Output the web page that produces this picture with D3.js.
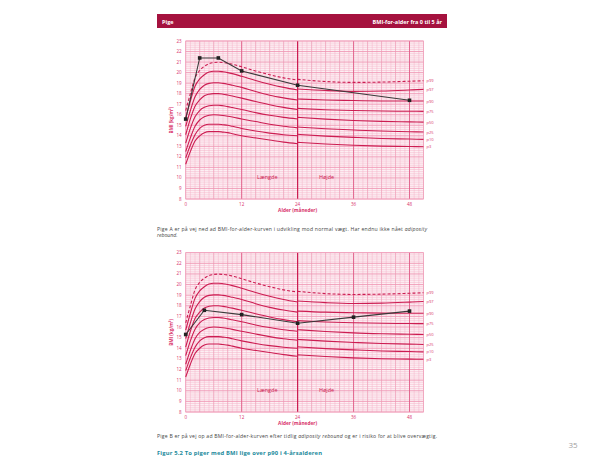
<!DOCTYPE html>
<html>
<head>
<meta charset="utf-8">
<script src="https://cdn.jsdelivr.net/npm/d3@7"></script>
<style>
  html, body { margin: 0; padding: 0; background: #ffffff; }
  svg { display: block; font-family: "Open Sans", "Liberation Sans", sans-serif; }
</style>
</head>
<body>
<svg id="page" width="613" height="461"></svg>
<script>
// Reference percentile curves (girls, BMI-for-age 0-51 months).
// Length-based segment up to 24 months, height-based segment from 24 months.
const lengthMonths = [0, 1, 2, 3, 4, 5, 6, 7, 8, 9, 10, 12, 15, 18, 21, 24];
const heightMonths = [24, 30, 36, 42, 48, 51];

const percentileNames = ["p3", "p10", "p25", "p50", "p75", "p90", "p97", "p99"];

const p3Length  = [11.3, 12.5, 13.5, 14.0, 14.3, 14.4, 14.4, 14.4, 14.35, 14.3, 14.2, 14.0, 13.8, 13.6, 13.4, 13.25];
const p10Length = [11.9, 13.1, 14.1, 14.7, 15.0, 15.1, 15.1, 15.1, 15.05, 15.0, 14.9, 14.7, 14.45, 14.25, 14.1, 14.0];
const p25Length = [12.5, 13.8, 14.9, 15.5, 15.8, 15.95, 16.0, 15.98, 15.93, 15.86, 15.78, 15.6, 15.35, 15.1, 14.9, 14.75];
const p50Length = [13.3, 14.7, 15.8, 16.4, 16.7, 16.85, 16.9, 16.9, 16.85, 16.77, 16.68, 16.5, 16.2, 15.95, 15.75, 15.6];
const p75Length = [14.1, 15.6, 16.8, 17.4, 17.8, 17.95, 18.0, 18.0, 17.95, 17.87, 17.78, 17.58, 17.25, 16.95, 16.7, 16.5];
const p90Length = [14.9, 16.4, 17.7, 18.4, 18.8, 18.98, 19.03, 19.03, 18.98, 18.9, 18.8, 18.6, 18.2, 17.85, 17.6, 17.4];
const p97Length = [15.7, 17.3, 18.7, 19.4, 19.8, 20.05, 20.13, 20.13, 20.08, 20.0, 19.9, 19.65, 19.25, 18.9, 18.6, 18.35];
const p99Length = [16.4, 18.0, 19.5, 20.2, 20.6, 20.85, 20.95, 20.98, 20.95, 20.9, 20.8, 20.55, 20.15, 19.8, 19.5, 19.3];

const p3Height  = [13.38, 13.22, 13.1, 13.02, 12.98, 12.96];
const p10Height = [14.14, 13.97, 13.85, 13.75, 13.69, 13.66];
const p25Height = [14.83, 14.67, 14.55, 14.45, 14.39, 14.36];
const p50Height = [15.75, 15.58, 15.45, 15.37, 15.32, 15.3];
const p75Height = [16.6, 16.48, 16.4, 16.35, 16.33, 16.32];
const p90Height = [17.5, 17.4, 17.35, 17.31, 17.3, 17.3];
const p97Height = [18.45, 18.3, 18.22, 18.25, 18.35, 18.41];
const p99Height = [19.36, 19.15, 19.07, 19.1, 19.18, 19.23];

// Two girls' measurements
const girlAMonths = [0, 3, 7, 12, 24, 48];
const girlABmi    = [15.59, 21.39, 21.39, 20.16, 18.8, 17.37];
const girlBMonths = [0, 4, 12, 24, 36, 48];
const girlBBmi    = [15.3, 17.58, 17.17, 16.36, 16.93, 17.5];

const yTicks = [8, 9, 10, 11, 12, 13, 14, 15, 16, 17, 18, 19, 20, 21, 22, 23];
const xTicks = [0, 12, 24, 36, 48];

const lengthCurves = [p3Length, p10Length, p25Length, p50Length, p75Length, p90Length, p97Length, p99Length];
const heightCurves = [p3Height, p10Height, p25Height, p50Height, p75Height, p90Height, p97Height, p99Height];

const svg = d3.select("#page");
const crimson = "#cc1d52";
const pinkText = "#d8326a";

// Page header band
svg.append("rect").attr("x", 157).attr("y", 14).attr("width", 290).attr("height", 14).attr("fill", "#a5123e");
svg.append("text").attr("x", 162).attr("y", 23.5).attr("fill", "#fff")
  .attr("font-size", 5.5).attr("font-weight", "bold").text("Pige");
svg.append("text").attr("x", 442).attr("y", 23.5).attr("fill", "#fff").attr("text-anchor", "end")
  .attr("font-size", 5.5).attr("font-weight", "bold").text("BMI-for-alder fra 0 til 5 år");

function drawChart(top, bottom, months, bmi) {
  const x = d3.scaleLinear().domain([0, 51]).range([185.7, 423.5]);
  const y = d3.scaleLinear().domain([8, 23]).range([bottom, top]);
  const g = svg.append("g");

  g.append("rect").attr("x", x(0)).attr("y", y(23)).attr("width", x(51) - x(0)).attr("height", y(8) - y(23))
    .attr("fill", "#fdf0f4");

  // fine grid
  const minorY = d3.range(8, 23.01, 0.2);
  g.selectAll(null).data(minorY).join("line")
    .attr("x1", x(0)).attr("x2", x(51)).attr("y1", d => y(d)).attr("y2", d => y(d))
    .attr("stroke", "#f5b3c9").attr("stroke-width", 0.5);
  const minorX = d3.range(0, 51.01, 1);
  g.selectAll(null).data(minorX).join("line")
    .attr("y1", y(8)).attr("y2", y(23)).attr("x1", d => x(d)).attr("x2", d => x(d))
    .attr("stroke", "#f5b3c9").attr("stroke-width", 0.5);
  // unit grid
  g.selectAll(null).data(yTicks).join("line")
    .attr("x1", x(0)).attr("x2", x(51)).attr("y1", d => y(d)).attr("y2", d => y(d))
    .attr("stroke", "#ec86a8").attr("stroke-width", 0.6);
  g.selectAll(null).data(d3.range(0, 51.01, 3)).join("line")
    .attr("y1", y(8)).attr("y2", y(23)).attr("x1", d => x(d)).attr("x2", d => x(d))
    .attr("stroke", "#ec9ab5").attr("stroke-width", 0.5);
  g.selectAll(null).data([12, 36, 48]).join("line")
    .attr("y1", y(8)).attr("y2", y(23)).attr("x1", d => x(d)).attr("x2", d => x(d))
    .attr("stroke", "#dd4b7b").attr("stroke-width", 0.7);
  g.append("line").attr("y1", y(8)).attr("y2", y(23)).attr("x1", x(24)).attr("x2", x(24))
    .attr("stroke", crimson).attr("stroke-width", 1.2);
  g.append("rect").attr("x", x(0)).attr("y", y(23)).attr("width", x(51) - x(0)).attr("height", y(8) - y(23))
    .attr("fill", "none").attr("stroke", "#f0a0bb").attr("stroke-width", 0.6);

  // percentile curves
  const line = d3.line().curve(d3.curveMonotoneX);
  lengthCurves.forEach((vals, i) => {
    const dashed = percentileNames[i] === "p99";
    g.append("path").attr("d", line(lengthMonths.map((m, j) => [x(m), y(vals[j])])))
      .attr("fill", "none").attr("stroke", crimson).attr("stroke-width", 1.1)
      .attr("stroke-dasharray", dashed ? "3,2" : null);
    g.append("path").attr("d", line(heightMonths.map((m, j) => [x(m), y(heightCurves[i][j])])))
      .attr("fill", "none").attr("stroke", crimson).attr("stroke-width", 1.1)
      .attr("stroke-dasharray", dashed ? "3,2" : null);
    g.append("text").attr("x", x(51) + 3).attr("y", y(heightCurves[i][heightCurves[i].length - 1]) + 1.5)
      .attr("font-size", 4).attr("fill", pinkText).text(percentileNames[i]);
  });

  // axes labels
  g.selectAll(null).data(yTicks).join("text")
    .attr("x", x(0) - 4).attr("y", d => y(d) + 1.5).attr("text-anchor", "end")
    .attr("font-size", 4.5).attr("fill", pinkText).text(d => d);
  g.selectAll(null).data(xTicks).join("text")
    .attr("x", d => x(d)).attr("y", y(8) + 6.5).attr("text-anchor", "middle")
    .attr("font-size", 4.5).attr("fill", pinkText).text(d => d);
  g.append("text").attr("x", x(24)).attr("y", y(8) + 13).attr("text-anchor", "middle")
    .attr("font-size", 4.8).attr("font-weight", "bold").attr("fill", pinkText).text("Alder (måneder)");
  g.append("text").attr("transform", `translate(${x(0) - 13},${(y(8) + y(23)) / 2}) rotate(-90)`)
    .attr("text-anchor", "middle").attr("font-size", 4.6).attr("font-weight", "bold").attr("fill", pinkText)
    .text("BMI (kg/m²)");
  g.append("text").attr("x", x(17.5)).attr("y", y(9.9)).attr("text-anchor", "middle")
    .attr("font-size", 5.5).attr("fill", crimson).text("Længde");
  g.append("text").attr("x", x(30.2)).attr("y", y(9.9)).attr("text-anchor", "middle")
    .attr("font-size", 5.5).attr("fill", crimson).text("Højde");

  // the girl's measurements
  g.append("path").attr("d", d3.line()(months.map((m, j) => [x(m), y(bmi[j])])))
    .attr("fill", "none").attr("stroke", "#3a3a3a").attr("stroke-width", 1.1);
  g.selectAll(null).data(months).join("rect")
    .attr("x", (m) => x(m) - 1.8).attr("y", (m, j) => y(bmi[j]) - 1.8)
    .attr("width", 3.6).attr("height", 3.6).attr("fill", "#222");
}

drawChart(41, 199, girlAMonths, girlABmi);
drawChart(252.7, 412, girlBMonths, girlBBmi);

// captions
const cap = svg.append("g").attr("font-size", 5.1).attr("fill", "#444");
const c1 = cap.append("text").attr("x", 157).attr("y", 230.5)
  .attr("textLength", 270).attr("lengthAdjust", "spacing");
c1.append("tspan").text("Pige A er på vej ned ad BMI-for-alder-kurven i udvikling mod normal vægt. Har endnu ikke nået ");
c1.append("tspan").attr("font-style", "italic").text("adiposity");
cap.append("text").attr("x", 157).attr("y", 236.5).attr("font-style", "italic").text("rebound.");
const c2 = cap.append("text").attr("x", 157).attr("y", 437.5)
  .attr("textLength", 280).attr("lengthAdjust", "spacing");
c2.append("tspan").text("Pige B er på vej op ad BMI-for-alder-kurven efter tidlig ");
c2.append("tspan").attr("font-style", "italic").text("adiposity rebound");
c2.append("tspan").text(" og er i risiko for at blive overvægtig.");

svg.append("text").attr("x", 157).attr("y", 455).attr("font-size", 5.8).attr("font-weight", "bold")
  .attr("fill", "#1b8a9c").attr("textLength", 165).attr("lengthAdjust", "spacing")
  .text("Figur 5.2 To piger med BMI lige over p90 i 4-årsalderen");

svg.append("text").attr("x", 573).attr("y", 448).attr("font-size", 8).attr("fill", "#a0a0a0")
  .attr("text-anchor", "middle").text("35");
</script>
</body>
</html>
